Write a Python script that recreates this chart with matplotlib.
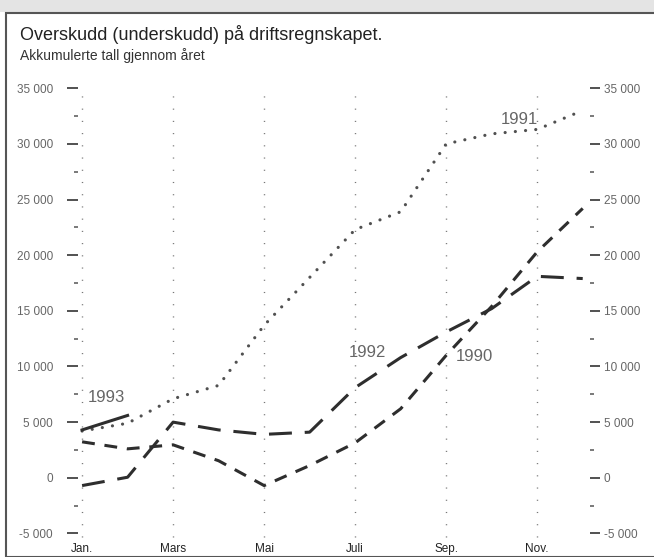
import matplotlib
matplotlib.use("Agg")
import matplotlib.pyplot as plt
from matplotlib.patches import Rectangle
from matplotlib.ticker import FuncFormatter, MultipleLocator

# Akkumulert driftsresultat per måned (lest av figuren)
months = list(range(12))
y1990 = [3230, 2600, 2960, 1530, -700, 1100, 3140, 6200, 11000, 15400, 20300, 24200]
y1991 = [4200, 4900, 7100, 8300, 13700, 18000, 22300, 23900, 30000, 30900, 31300, 33000]
y1992 = [-700, 50, 5000, 4300, 3900, 4100, 8100, 10800, 13100, 15200, 18100, 17900]
y1993 = [4300, 5600]

month_ticks = [0, 2, 4, 6, 8, 10]
month_labels = ['Jan.', 'Mars', 'Mai', 'Juli', 'Sep.', 'Nov.']

plt.rcParams['font.family'] = ['Liberation Sans', 'DejaVu Sans']

fig = plt.figure(figsize=(6.54, 5.57), dpi=100)
W, H = 654, 557

# ramme og grå kant øverst (skannet side)
fig.patches.append(Rectangle((0, 1 - 12 / H), 1, 12 / H, transform=fig.transFigure,
                             facecolor='#e4e4e4', edgecolor='none'))
fig.patches.append(Rectangle((6 / W, 0), 1, 1 - 13 / H, transform=fig.transFigure,
                             facecolor='none', edgecolor='#555555', linewidth=1.5))

ax = fig.add_axes([78 / W, 18 / H, 512 / W, 453 / H])
ax.set_xlim(-0.09, 11.16)
ax.set_ylim(-5500, 35200)
for s in ax.spines.values():
    s.set_visible(False)

# loddrette prikkete hjelpelinjer
ax.vlines(month_ticks, -5300, 34500, colors='#777777', linewidth=1.0,
          linestyles=(0, (0.8, 8)))

col = '#2e2e2e'
ax.plot(months, y1990, color=col, lw=2.2, linestyle=(0, (4.2, 3.2)))
ax.plot(months, y1992, color=col, lw=2.2, linestyle=(0, (7.5, 4.2)))
ax.plot(months, y1991, color='#505050', lw=2.3, linestyle=(0, (0.01, 3.2)),
        dash_capstyle='round')
ax.plot(months[:2], y1993, color=col, lw=2.2)

lab_kw = dict(fontsize=12, color='#666666', va='center')
ax.text(0.13, 7180, '1993', **lab_kw)
ax.text(5.85, 11300, '1992', **lab_kw)
ax.text(8.2, 10870, '1990', **lab_kw)
ax.text(9.19, 32150, '1991', **lab_kw)

fmt = FuncFormatter(lambda v, p: f'{int(v):,}'.replace(',', ' '))
yticks = list(range(-5000, 35001, 5000))

ax.set_yticks(yticks)
ax.yaxis.set_minor_locator(MultipleLocator(2500))
ax.yaxis.set_major_formatter(fmt)
ax.tick_params(axis='y', which='major', length=8, width=1.2, color='#333333',
               labelsize=8.5, labelcolor='#666666', pad=10)
ax.tick_params(axis='y', which='minor', length=3, width=1.1, color='#555555')

# høyre akse med samme skala
axr = ax.twinx()
axr.set_ylim(ax.get_ylim())
for s in axr.spines.values():
    s.set_visible(False)
axr.set_yticks(yticks)
axr.yaxis.set_minor_locator(MultipleLocator(2500))
axr.yaxis.set_major_formatter(fmt)
axr.tick_params(axis='y', which='major', length=7, width=1.2, color='#333333',
                labelsize=8.5, labelcolor='#666666', pad=3)
axr.tick_params(axis='y', which='minor', length=3, width=1.1, color='#555555')

ax.set_xticks(month_ticks)
ax.set_xticklabels(month_labels)
ax.tick_params(axis='x', length=0, labelsize=8.5, labelcolor='#222222', pad=3)

fig.text(20 / W, 1 - 35 / H, 'Overskudd (underskudd) på driftsregnskapet.',
         fontsize=13, color='#222222', va='center')
fig.text(20 / W, 1 - 56 / H, 'Akkumulerte tall gjennom året',
         fontsize=10, color='#333333', va='center')

fig.savefig('out.png', dpi=100)
